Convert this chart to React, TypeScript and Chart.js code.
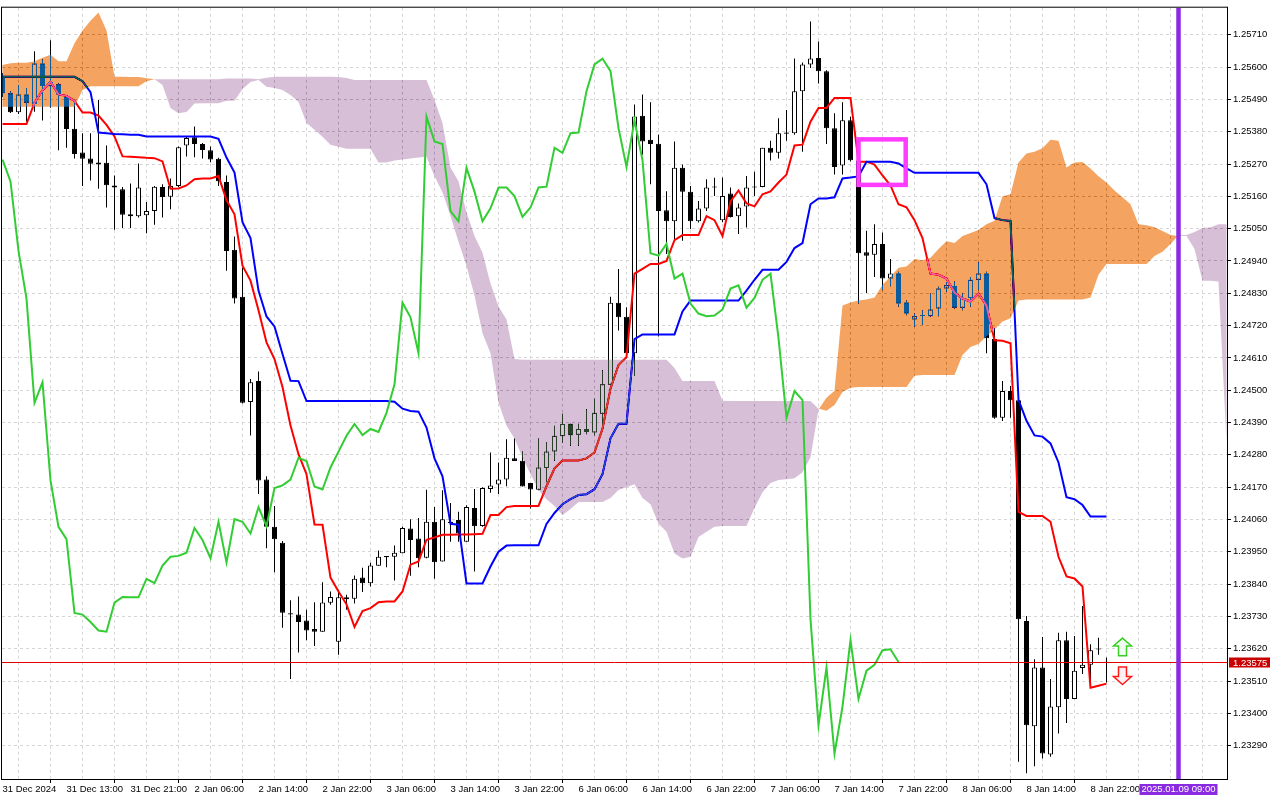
import { useEffect, useRef } from "react";
import { Chart, registerables } from "chart.js";

Chart.register(...registerables);

// H1 bars, one label every 8 bars
const timeLabels = [
  "31 Dec 2024", "31 Dec 13:00", "31 Dec 21:00", "2 Jan 06:00", "2 Jan 14:00", "2 Jan 22:00",
  "3 Jan 06:00", "3 Jan 14:00", "3 Jan 22:00", "6 Jan 06:00", "6 Jan 14:00", "6 Jan 22:00",
  "7 Jan 06:00", "7 Jan 14:00", "7 Jan 22:00", "8 Jan 06:00", "8 Jan 14:00", "8 Jan 22:00",
];

const priceTicks = [
  1.2329, 1.234, 1.2351, 1.2362, 1.2373, 1.2384, 1.2395, 1.2406, 1.2417, 1.2428, 1.2439, 1.245,
  1.2461, 1.2472, 1.2483, 1.2494, 1.2505, 1.2516, 1.2527, 1.2538, 1.2549, 1.256, 1.2571,
];

const opens = [
  1.25567, 1.25511, 1.25446, 1.25507, 1.25474, 1.25612, 1.25535, 1.25542, 1.25499, 1.25390,
  1.25309, 1.25289, 1.25275, 1.25274, 1.25197, 1.25184, 1.25099, 1.25092, 1.25096, 1.25110,
  1.25192, 1.25159, 1.25195, 1.25333, 1.25361, 1.25338, 1.25317, 1.25288, 1.25209, 1.24978,
  1.24818, 1.24460, 1.24531, 1.24196, 1.24035, 1.23981, 1.23741, 1.23736, 1.23716, 1.23687,
  1.23678, 1.23776, 1.23644, 1.23788, 1.23790, 1.23862, 1.23843, 1.23902, 1.23931, 1.23933,
  1.23945, 1.24029, 1.23995, 1.23930, 1.24052, 1.23917, 1.24048, 1.24058, 1.23984, 1.24099,
  1.24038, 1.24164, 1.24179, 1.24196, 1.24268, 1.24260, 1.24184, 1.24161, 1.24235, 1.24291,
  1.24343, 1.24386, 1.24348, 1.24368, 1.24356, 1.24420, 1.24519, 1.24798, 1.24750, 1.24626,
  1.25434, 1.25353, 1.25339, 1.25113, 1.25075, 1.25257, 1.25176, 1.25075, 1.25119, 1.25193,
  1.25079, 1.25170, 1.25092, 1.25125, 1.25190, 1.25192, 1.25325, 1.25308, 1.25373, 1.25375,
  1.25518, 1.25609, 1.25631, 1.25586, 1.25392, 1.25265, 1.25419, 1.25282, 1.24970, 1.24961,
  1.24998, 1.24880, 1.24897, 1.24799, 1.24741, 1.24753, 1.24752, 1.24778, 1.24846, 1.24855,
  1.24781, 1.24814, 1.24876, 1.24897, 1.24674, 1.24406, 1.24497, 1.24466, 1.23714, 1.23356,
  1.23556, 1.23260, 1.23421, 1.23649, 1.23449, 1.23554, 1.23565, 1.23617, 1.23572,
];

const highs = [
  1.25579, 1.25518, 1.25539, 1.25529, 1.25654, 1.25627, 1.25691, 1.25545, 1.25505, 1.25482,
  1.25375, 1.25375, 1.25488, 1.25333, 1.25231, 1.25192, 1.25204, 1.25272, 1.25141, 1.25195,
  1.25201, 1.25221, 1.25330, 1.25364, 1.25398, 1.25342, 1.25330, 1.25291, 1.25231, 1.25023,
  1.24917, 1.24538, 1.24564, 1.24207, 1.24106, 1.23987, 1.23785, 1.23798, 1.23753, 1.23778,
  1.23846, 1.23815, 1.23821, 1.23804, 1.23869, 1.23896, 1.23913, 1.23954, 1.23936, 1.23971,
  1.24035, 1.24061, 1.24065, 1.24161, 1.24102, 1.24159, 1.24116, 1.24086, 1.24108, 1.24164,
  1.24170, 1.24288, 1.24254, 1.24333, 1.24336, 1.24291, 1.24184, 1.24336, 1.24324, 1.24379,
  1.24420, 1.24386, 1.24386, 1.24435, 1.24471, 1.24568, 1.24818, 1.24913, 1.24782, 1.25473,
  1.25507, 1.25480, 1.25370, 1.25177, 1.25347, 1.25268, 1.25195, 1.25144, 1.25218, 1.25223,
  1.25224, 1.25190, 1.25136, 1.25229, 1.25244, 1.25325, 1.25349, 1.25426, 1.25454, 1.25629,
  1.25616, 1.25755, 1.25687, 1.25589, 1.25443, 1.25480, 1.25431, 1.25302, 1.25043, 1.25065,
  1.25037, 1.24947, 1.24903, 1.24805, 1.24761, 1.24772, 1.24829, 1.24852, 1.24868, 1.24870,
  1.24829, 1.24885, 1.24936, 1.24903, 1.24711, 1.24531, 1.24514, 1.24471, 1.23731, 1.23584,
  1.23660, 1.23517, 1.23674, 1.23678, 1.23663, 1.23765, 1.23635, 1.23657, 1.23590,
];

const lows = [
  1.25498, 1.25444, 1.25440, 1.25415, 1.25448, 1.25418, 1.25462, 1.25317, 1.25325, 1.25289,
  1.25195, 1.25214, 1.25186, 1.25122, 1.25046, 1.25052, 1.25052, 1.25088, 1.25034, 1.25063,
  1.25088, 1.25116, 1.25192, 1.25296, 1.25293, 1.25289, 1.25276, 1.25195, 1.24907, 1.24795,
  1.24455, 1.24346, 1.24147, 1.23962, 1.23880, 1.23691, 1.23517, 1.23607, 1.23649, 1.23629,
  1.23678, 1.23770, 1.23599, 1.23753, 1.23774, 1.23813, 1.23832, 1.23902, 1.23897, 1.23852,
  1.23945, 1.23868, 1.23897, 1.23928, 1.23858, 1.23917, 1.23984, 1.23984, 1.23984, 1.23883,
  1.24035, 1.24151, 1.24147, 1.24173, 1.24259, 1.24172, 1.24097, 1.24159, 1.24187, 1.24260,
  1.24320, 1.24311, 1.24311, 1.24350, 1.24347, 1.24379, 1.24518, 1.24703, 1.24609, 1.24548,
  1.25302, 1.25201, 1.24683, 1.24964, 1.25009, 1.25009, 1.25049, 1.25071, 1.25110, 1.25161,
  1.25072, 1.25088, 1.25032, 1.25054, 1.25161, 1.25191, 1.25282, 1.25289, 1.25349, 1.25370,
  1.25312, 1.25597, 1.25544, 1.25338, 1.25234, 1.25234, 1.25279, 1.24795, 1.24831, 1.24885,
  1.24840, 1.24854, 1.24784, 1.24755, 1.24716, 1.24722, 1.24750, 1.24752, 1.24835, 1.24778,
  1.24772, 1.24784, 1.24840, 1.24626, 1.24403, 1.24395, 1.24406, 1.23235, 1.23196, 1.23220,
  1.23246, 1.23252, 1.23331, 1.23367, 1.23449, 1.23534, 1.23498, 1.23599, 1.23505,
];

const closes = [
  1.25511, 1.25446, 1.25507, 1.25479, 1.25612, 1.25536, 1.25549, 1.25507, 1.25389, 1.25304,
  1.25288, 1.25271, 1.25268, 1.25198, 1.25190, 1.25097, 1.25092, 1.25190, 1.25110, 1.25193,
  1.25158, 1.25195, 1.25327, 1.25359, 1.25338, 1.25318, 1.25285, 1.25211, 1.24974, 1.24812,
  1.24457, 1.24527, 1.24193, 1.24035, 1.23993, 1.23742, 1.23736, 1.23711, 1.23682, 1.23678,
  1.23777, 1.23796, 1.23795, 1.23795, 1.23858, 1.23843, 1.23903, 1.23933, 1.23936, 1.23947,
  1.24031, 1.23990, 1.23928, 1.24052, 1.23914, 1.24061, 1.24052, 1.24012, 1.24102, 1.24037,
  1.24167, 1.24176, 1.24196, 1.24270, 1.24259, 1.24172, 1.24162, 1.24237, 1.24291, 1.24345,
  1.24385, 1.24347, 1.24368, 1.24358, 1.24423, 1.24520, 1.24798, 1.24748, 1.24626, 1.25432,
  1.25347, 1.25338, 1.25110, 1.25075, 1.25257, 1.25176, 1.25075, 1.25119, 1.25190, 1.25190,
  1.25161, 1.25090, 1.25122, 1.25190, 1.25193, 1.25325, 1.25308, 1.25375, 1.25377, 1.25518,
  1.25609, 1.25629, 1.25586, 1.25392, 1.25260, 1.25419, 1.25283, 1.24966, 1.24958, 1.24998,
  1.24880, 1.24897, 1.24795, 1.24761, 1.24752, 1.24754, 1.24775, 1.24846, 1.24857, 1.24781,
  1.24814, 1.24876, 1.24897, 1.24677, 1.24406, 1.24497, 1.24466, 1.23720, 1.23359, 1.23556,
  1.23263, 1.23423, 1.23649, 1.23449, 1.23545, 1.23565, 1.23615, 1.23618, 1.23575,
];

const tenkan = [
  1.25406, 1.25406, 1.25406, 1.25406, 1.25479, 1.25521, 1.25550, 1.25507, 1.25502, 1.25485,
  1.25445, 1.25445, 1.25435, 1.25403, 1.25364, 1.25296, 1.25295, 1.25293, 1.25291, 1.25290,
  1.25279, 1.25186, 1.25187, 1.25197, 1.25218, 1.25221, 1.25221, 1.25229, 1.25147, 1.25099,
  1.24924, 1.24873, 1.24772, 1.24663, 1.24606, 1.24511, 1.24380, 1.24282, 1.24214, 1.24043,
  1.24042, 1.23862, 1.23815, 1.23771, 1.23694, 1.23748, 1.23758, 1.23778, 1.23781, 1.23781,
  1.23815, 1.23906, 1.23917, 1.23991, 1.23999, 1.24008, 1.24008, 1.24009, 1.24009, 1.24010,
  1.24011, 1.24075, 1.24075, 1.24102, 1.24106, 1.24106, 1.24106, 1.24106, 1.24173, 1.24234,
  1.24261, 1.24261, 1.24261, 1.24268, 1.24288, 1.24369, 1.24505, 1.24586, 1.24613, 1.24897,
  1.24913, 1.24930, 1.24930, 1.24940, 1.25011, 1.25028, 1.25028, 1.25028, 1.25093, 1.25079,
  1.25025, 1.25143, 1.25180, 1.25136, 1.25126, 1.25167, 1.25177, 1.25207, 1.25234, 1.25333,
  1.25336, 1.25414, 1.25461, 1.25461, 1.25495, 1.25495, 1.25495, 1.25278, 1.25278, 1.25268,
  1.25231, 1.25197, 1.25133, 1.25123, 1.25079, 1.25018, 1.24897, 1.24893, 1.24880, 1.24832,
  1.24812, 1.24802, 1.24829, 1.24788, 1.24670, 1.24668, 1.24660, 1.24086, 1.24072, 1.24072,
  1.24072, 1.24052, 1.23933, 1.23866, 1.23859, 1.23832, 1.23487, 1.23494, 1.23501,
];

const kijun = [
  1.25567, 1.25567, 1.25567, 1.25567, 1.25567, 1.25567, 1.25567, 1.25567, 1.25567, 1.25567,
  1.25552, 1.25515, 1.25377, 1.25375, 1.25372, 1.25371, 1.25370, 1.25370, 1.25364, 1.25364,
  1.25364, 1.25364, 1.25364, 1.25364, 1.25364, 1.25364, 1.25364, 1.25356, 1.25292, 1.25241,
  1.25072, 1.25018, 1.24839, 1.24751, 1.24717, 1.24623, 1.24532, 1.24531, 1.24463, 1.24463,
  1.24463, 1.24463, 1.24463, 1.24463, 1.24463, 1.24463, 1.24463, 1.24463, 1.24463, 1.24461,
  1.24437, 1.24429, 1.24427, 1.24373, 1.24268, 1.24207, 1.24045, 1.24042, 1.23842, 1.23842,
  1.23842, 1.23900, 1.23950, 1.23971, 1.23972, 1.23972, 1.23972, 1.23972, 1.24045, 1.24082,
  1.24112, 1.24129, 1.24143, 1.24146, 1.24163, 1.24214, 1.24336, 1.24386, 1.24386, 1.24674,
  1.24690, 1.24690, 1.24690, 1.24690, 1.24690, 1.24768, 1.24805, 1.24805, 1.24805, 1.24805,
  1.24805, 1.24805, 1.24805, 1.24839, 1.24876, 1.24910, 1.24910, 1.24910, 1.24937, 1.24984,
  1.25001, 1.25133, 1.25153, 1.25153, 1.25157, 1.25221, 1.25224, 1.25228, 1.25278, 1.25278,
  1.25278, 1.25278, 1.25272, 1.25255, 1.25240, 1.25240, 1.25240, 1.25240, 1.25240, 1.25240,
  1.25240, 1.25240, 1.25240, 1.25201, 1.25086, 1.25079, 1.25076, 1.24467, 1.24396, 1.24346,
  1.24342, 1.24319, 1.24254, 1.24136, 1.24129, 1.24109, 1.24070, 1.24070, 1.24070,
];

// already shifted 26 bars forward (runs past the last candle)
const spanA = [
  1.25607, 1.25613, 1.25615, 1.25615, 1.25620, 1.25632, 1.25642, 1.25620, 1.25620, 1.25681,
  1.25725, 1.25758, 1.25786, 1.25725, 1.25567, 1.25567, 1.25566, 1.25566, 1.25562, 1.25559,
  1.25539, 1.25461, 1.25443, 1.25447, 1.25476, 1.25477, 1.25477, 1.25477, 1.25485, 1.25485,
  1.25525, 1.25549, 1.25556, 1.25533, 1.25529, 1.25522, 1.25505, 1.25481, 1.25410, 1.25387,
  1.25363, 1.25336, 1.25329, 1.25322, 1.25322, 1.25322, 1.25322, 1.25275, 1.25275, 1.25282,
  1.25285, 1.25289, 1.25292, 1.25295, 1.25228, 1.25174, 1.25093, 1.25005, 1.24924, 1.24822,
  1.24694, 1.24626, 1.24457, 1.24380, 1.24336, 1.24271, 1.24214, 1.24160, 1.24129, 1.24106,
  1.24075, 1.24096, 1.24119, 1.24119, 1.24119, 1.24119, 1.24133, 1.24160, 1.24170, 1.24180,
  1.24133, 1.24112, 1.24045, 1.24018, 1.23944, 1.23927, 1.23933, 1.24000, 1.24018, 1.24035,
  1.24038, 1.24038, 1.24038, 1.24038, 1.24099, 1.24153, 1.24184, 1.24194, 1.24197, 1.24200,
  1.24221, 1.24271, 1.24434, 1.24474, 1.24498, 1.24788, 1.24799, 1.24805, 1.24809, 1.24816,
  1.24859, 1.24886, 1.24917, 1.24921, 1.24947, 1.24942, 1.24951, 1.24981, 1.25007, 1.25001,
  1.25025, 1.25035, 1.25045, 1.25065, 1.25077, 1.25160, 1.25167, 1.25275, 1.25306, 1.25312,
  1.25324, 1.25353, 1.25349, 1.25258, 1.25275, 1.25277, 1.25255, 1.25228, 1.25207, 1.25180,
  1.25157, 1.25133, 1.25065, 1.25062, 1.25055, 1.25042, 1.25028, 1.25025, 1.25025, 1.24981,
  1.24873, 1.24873, 1.24870, 1.24322,
];

const spanB = [
  1.25465, 1.25465, 1.25465, 1.25465, 1.25465, 1.25465, 1.25465, 1.25465, 1.25465, 1.25465,
  1.25522, 1.25535, 1.25535, 1.25535, 1.25535, 1.25535, 1.25535, 1.25535, 1.25552, 1.25559,
  1.25559, 1.25559, 1.25559, 1.25559, 1.25559, 1.25559, 1.25559, 1.25559, 1.25561, 1.25561,
  1.25561, 1.25561, 1.25559, 1.25564, 1.25567, 1.25567, 1.25567, 1.25567, 1.25567, 1.25567,
  1.25567, 1.25567, 1.25566, 1.25563, 1.25556, 1.25556, 1.25556, 1.25556, 1.25556, 1.25556,
  1.25556, 1.25556, 1.25556, 1.25556, 1.25488, 1.25410, 1.25258, 1.25211, 1.25106, 1.25025,
  1.24968, 1.24863, 1.24785, 1.24741, 1.24606, 1.24604, 1.24604, 1.24604, 1.24604, 1.24604,
  1.24604, 1.24604, 1.24604, 1.24604, 1.24604, 1.24604, 1.24604, 1.24604, 1.24604, 1.24604,
  1.24604, 1.24604, 1.24604, 1.24604, 1.24576, 1.24531, 1.24531, 1.24531, 1.24531, 1.24531,
  1.24464, 1.24463, 1.24463, 1.24463, 1.24463, 1.24463, 1.24463, 1.24463, 1.24463, 1.24463,
  1.24463, 1.24463, 1.24437, 1.24430, 1.24450, 1.24494, 1.24508, 1.24511, 1.24511, 1.24511,
  1.24511, 1.24511, 1.24511, 1.24511, 1.24549, 1.24552, 1.24552, 1.24552, 1.24552, 1.24552,
  1.24620, 1.24647, 1.24657, 1.24684, 1.24707, 1.24734, 1.24745, 1.24805, 1.24809, 1.24809,
  1.24809, 1.24809, 1.24809, 1.24809, 1.24809, 1.24809, 1.24816, 1.24893, 1.24930, 1.24930,
  1.24930, 1.24930, 1.24930, 1.24930, 1.24957, 1.24971, 1.24998, 1.25028, 1.25028, 1.25039,
  1.25052, 1.25055, 1.25065, 1.25065,
];

const CHIKOU_SHIFT = 26;
const BID = 1.23575;
const CURSOR_BAR = 147;
const CURSOR_LABEL = "2025.01.09 09:00";
const BOX = { from: 107, to: 112.9, high: 1.25354, low: 1.25199 };
const ARROW_BAR = 140;
const UP_ARROW = { base: 1.23596, tip: 1.23656 };
const DOWN_ARROW = { base: 1.23558, tip: 1.23498 };

const Y_MIN = 1.231764;
const Y_MAX = 1.258022;
const X_MIN = -0.0625;
const X_MAX = 153.0625;

const FONT_FAMILY = "'Liberation Sans', Arial, sans-serif";
const GRID = "#d6d6d6";
const isLabelTick = (v: number) => v % 8 === 0 && v / 8 < timeLabels.length;

const pts = (arr: number[]) => arr.map((v, i) => ({ x: i, y: v }));

const background = {
  id: "background",
  beforeDraw(chart: any) {
    const { ctx, width, height } = chart;
    ctx.save();
    ctx.fillStyle = "#ffffff";
    ctx.fillRect(0, 0, width, height);
    ctx.restore();
  },
};

// kumo is painted like the terminal does it: inverted over what is under it
const kumo = {
  id: "kumo",
  afterDatasetDraw(chart: any, args: any) {
    if (chart.data.datasets[args.index].label !== "Kijun-sen") return;
    const ds = chart.data.datasets;
    const pa = chart.getDatasetMeta(ds.findIndex((d: any) => d.label === "Senkou Span A")).data;
    const pb = chart.getDatasetMeta(ds.findIndex((d: any) => d.label === "Senkou Span B")).data;
    const { ctx, chartArea: a } = chart;

    const bull = new Path2D();
    const bear = new Path2D();
    const poly = (p: Path2D, list: number[][]) => {
      p.moveTo(list[0][0], list[0][1]);
      for (let k = 1; k < list.length; k++) p.lineTo(list[k][0], list[k][1]);
      p.closePath();
    };

    for (let i = 0; i < pa.length - 1; i++) {
      const x0 = pa[i].x, x1 = pa[i + 1].x;
      const a0 = pa[i].y, a1 = pa[i + 1].y;
      const b0 = pb[i].y, b1 = pb[i + 1].y;
      const d0 = b0 - a0, d1 = b1 - a1;
      if (d0 >= 0 && d1 >= 0) {
        poly(bull, [[x0, a0], [x1, a1], [x1, b1], [x0, b0]]);
      } else if (d0 <= 0 && d1 <= 0) {
        poly(bear, [[x0, a0], [x1, a1], [x1, b1], [x0, b0]]);
      } else {
        const t = d0 / (d0 - d1);
        const xc = x0 + t * (x1 - x0);
        const yc = a0 + t * (a1 - a0);
        poly(d0 > 0 ? bull : bear, [[x0, a0], [xc, yc], [x0, b0]]);
        poly(d1 > 0 ? bull : bear, [[xc, yc], [x1, a1], [x1, b1]]);
      }
    }

    ctx.save();
    ctx.beginPath();
    ctx.rect(a.left, a.top, a.right - a.left, a.bottom - a.top);
    ctx.clip();
    ctx.globalCompositeOperation = "difference";
    ctx.fillStyle = "rgb(11,91,159)"; // sandy brown on white
    ctx.fill(bull);
    ctx.fillStyle = "rgb(39,64,39)"; // thistle on white
    ctx.fill(bear);
    ctx.restore();
  },
};

const drawArrow = (ctx: CanvasRenderingContext2D, cx: number, tipY: number, baseY: number, stroke: string, fill: string) => {
  const dir = tipY < baseY ? -1 : 1;
  const head = Math.abs(baseY - tipY) * 0.45;
  const neck = tipY - dir * head;
  ctx.beginPath();
  ctx.moveTo(cx, tipY);
  ctx.lineTo(cx + 9, neck);
  ctx.lineTo(cx + 4, neck);
  ctx.lineTo(cx + 4, baseY);
  ctx.lineTo(cx - 4, baseY);
  ctx.lineTo(cx - 4, neck);
  ctx.lineTo(cx - 9, neck);
  ctx.closePath();
  ctx.fillStyle = fill;
  ctx.fill();
  ctx.lineWidth = 1.5;
  ctx.strokeStyle = stroke;
  ctx.stroke();
};

const overlays = {
  id: "overlays",
  afterDraw(chart: any) {
    const { ctx, chartArea: a, scales } = chart;
    const xs = scales.x;
    const ys = scales.y;

    ctx.save();
    ctx.beginPath();
    ctx.rect(a.left, a.top, a.right - a.left, a.bottom - a.top);
    ctx.clip();

    const bidY = Math.round(ys.getPixelForValue(BID)) + 0.5;
    ctx.strokeStyle = "#e00000";
    ctx.lineWidth = 1;
    ctx.beginPath();
    ctx.moveTo(a.left, bidY);
    ctx.lineTo(a.right, bidY);
    ctx.stroke();

    const bx0 = xs.getPixelForValue(BOX.from);
    const bx1 = xs.getPixelForValue(BOX.to);
    const by0 = ys.getPixelForValue(BOX.high);
    const by1 = ys.getPixelForValue(BOX.low);
    ctx.strokeStyle = "#ff3cff";
    ctx.lineWidth = 4.5;
    ctx.strokeRect(bx0, by0, bx1 - bx0, by1 - by0);

    const ax = xs.getPixelForValue(ARROW_BAR);
    drawArrow(ctx, ax, ys.getPixelForValue(UP_ARROW.tip), ys.getPixelForValue(UP_ARROW.base), "#3dcc28", "#eefff2");
    drawArrow(ctx, ax, ys.getPixelForValue(DOWN_ARROW.tip), ys.getPixelForValue(DOWN_ARROW.base), "#ff1a1a", "#fff0f3");

    const cx = xs.getPixelForValue(CURSOR_BAR);
    ctx.strokeStyle = "#8a2be2";
    ctx.lineWidth = 4.5;
    ctx.beginPath();
    ctx.moveTo(cx, a.top);
    ctx.lineTo(cx, a.bottom);
    ctx.stroke();
    ctx.restore();

    ctx.save();
    ctx.strokeStyle = "#000";
    ctx.lineWidth = 1;
    ctx.strokeRect(a.left - 0.5, a.top - 0.5, a.right - a.left + 1, a.bottom - a.top + 1);

    ctx.font = `9.5px ${FONT_FAMILY}`;
    ctx.textBaseline = "middle";

    ctx.fillStyle = "#c80000";
    ctx.fillRect(a.right + 2, bidY - 5, 41, 10);
    ctx.fillStyle = "#fff";
    ctx.textAlign = "left";
    ctx.fillText(BID.toFixed(5), a.right + 6, bidY + 0.5);

    ctx.fillStyle = "#8a2be2";
    ctx.fillRect(cx - 39, a.bottom + 5, 78, 11);
    ctx.fillStyle = "#fff";
    ctx.textAlign = "center";
    ctx.fillText(CURSOR_LABEL, cx, a.bottom + 10.5);
    ctx.restore();
  },
};

export default function App() {
  const canvasRef = useRef<HTMLCanvasElement>(null);

  useEffect(() => {
    if (!canvasRef.current) return;

    const xTicks: number[] = [];
    for (let v = 0; v <= 152; v += 4) xTicks.push(v);

    const chart = new Chart(canvasRef.current, {
      type: "line",
      data: {
        datasets: [
          {
            type: "line",
            label: "Tenkan-sen",
            data: pts(tenkan),
            borderColor: "#ff0000",
            borderWidth: 2,
            pointRadius: 0,
            order: 5,
          },
          {
            type: "line",
            label: "Kijun-sen",
            data: pts(kijun),
            borderColor: "#0000ff",
            borderWidth: 2,
            pointRadius: 0,
            order: 4,
          },
          {
            type: "line",
            label: "Chikou Span",
            data: pts(closes.slice(CHIKOU_SHIFT)),
            borderColor: "#32cd32",
            borderWidth: 2,
            pointRadius: 0,
            order: 3,
          },
          {
            type: "bar",
            label: "Body",
            data: opens.map((o, i) => ({ x: i, y: [o, closes[i]] })),
            backgroundColor: opens.map((o, i) => (closes[i] >= o ? "#ffffff" : "#000000")),
            borderColor: "#000000",
            borderWidth: 1,
            borderSkipped: false,
            barThickness: 5,
            minBarLength: 1,
            grouped: false,
            inflateAmount: 0,
            order: 6,
          },
          {
            type: "bar",
            label: "Wick",
            data: lows.map((l, i) => ({ x: i, y: [l, highs[i]] })),
            backgroundColor: "#000000",
            borderWidth: 0,
            barThickness: 1,
            grouped: false,
            inflateAmount: 0,
            order: 7,
          },
          {
            type: "line",
            label: "Senkou Span A",
            data: pts(spanA),
            showLine: false,
            pointRadius: 0,
            order: 2,
          },
          {
            type: "line",
            label: "Senkou Span B",
            data: pts(spanB),
            showLine: false,
            pointRadius: 0,
            order: 1,
          },
        ] as any,
      },
      options: {
        responsive: false,
        animation: false,
        devicePixelRatio: 1,
        events: [],
        layout: { padding: { left: 2, top: 2, right: 0, bottom: 0 } },
        plugins: {
          legend: { display: false },
          tooltip: { enabled: false },
        },
        scales: {
          x: {
            type: "linear",
            min: X_MIN,
            max: X_MAX,
            offset: false,
            afterBuildTicks: (s: any) => {
              s.ticks = xTicks.map((v) => ({ value: v }));
            },
            afterFit: (s: any) => {
              s.height = 21;
            },
            ticks: {
              autoSkip: false,
              maxRotation: 0,
              align: "start",
              padding: 1,
              color: "#000",
              font: { family: FONT_FAMILY, size: 9.5 },
              callback: (v: any) => (isLabelTick(Number(v)) ? timeLabels[Number(v) / 8] : ""),
            },
            grid: {
              color: (c: any) => (c.tick && c.tick.value === 0 ? "rgba(0,0,0,0)" : GRID),
              lineWidth: 1,
              tickLength: 4,
              tickColor: (c: any) => (c.tick && isLabelTick(c.tick.value) ? "#000" : "rgba(0,0,0,0)"),
            },
            border: { display: false, dash: [3, 3] },
          },
          y: {
            type: "linear",
            position: "right",
            min: Y_MIN,
            max: Y_MAX,
            afterBuildTicks: (s: any) => {
              s.ticks = priceTicks.map((v) => ({ value: v }));
            },
            afterFit: (s: any) => {
              s.width = 53;
            },
            ticks: {
              padding: 2,
              color: "#000",
              font: { family: FONT_FAMILY, size: 9.5 },
              callback: (v: any) => Number(v).toFixed(5),
            },
            grid: {
              color: GRID,
              lineWidth: 1,
              tickLength: 4,
              tickColor: "#000",
            },
            border: { display: false, dash: [3, 3] },
          },
        },
      } as any,
      plugins: [background, kumo, overlays],
    });

    return () => {
      chart.destroy();
    };
  }, []);

  return (
    <div style={{ position: "fixed", left: 0, top: 0, width: 1280, height: 800, background: "#fff" }}>
      <canvas ref={canvasRef} width={1280} height={800} />
    </div>
  );
}
